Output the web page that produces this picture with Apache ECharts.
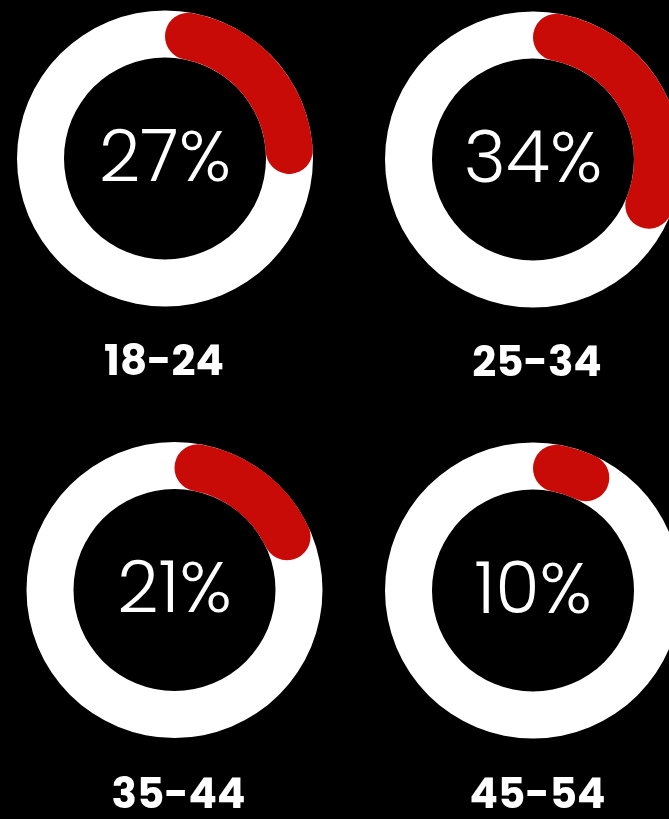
<!DOCTYPE html>
<html>
<head>
<meta charset="utf-8">
<script src="https://cdn.jsdelivr.net/npm/echarts@6/dist/echarts.min.js"></script>
<style>
  html, body { margin: 0; padding: 0; background: #000; }
  #chart { width: 669px; height: 819px; }
</style>
</head>
<body>
<div id="chart"></div>
<script>
// Data
const ageGroups = ['18-24', '25-34', '35-44', '45-54'];
const shares = [27, 34, 21, 10];
const total = 100;

// Layout (positions kept separate from data)
const centers = [[165, 158.5], [533, 159.5], [174.5, 590], [533, 590.5]];
const labelPos = [[164, 364], [537, 365], [178.5, 797], [537.5, 797]];
const innerR = 101, outerR = 148;
const RED = '#c80b07';

const chart = echarts.init(document.getElementById('chart'), null, { renderer: 'canvas' });

const series = [];
ageGroups.forEach((g, i) => {
  series.push({
    type: 'pie',
    silent: true,
    radius: [innerR, outerR],
    center: centers[i],
    startAngle: 90,
    label: { show: false },
    labelLine: { show: false },
    emphasis: { disabled: true },
    itemStyle: { color: '#ffffff', borderWidth: 0 },
    data: [{ value: total, name: g }]
  });
  series.push({
    type: 'pie',
    silent: true,
    radius: [innerR, outerR],
    center: centers[i],
    startAngle: 90,
    clockwise: true,
    avoidLabelOverlap: false,
    labelLine: { show: false },
    emphasis: { disabled: true },
    data: [
      {
        value: shares[i], name: g,
        itemStyle: { color: RED, borderRadius: (outerR - innerR) / 2, borderWidth: 0 },
        label: {
          show: true, position: 'center', formatter: '{c}%',
          color: '#ffffff', fontSize: 72, fontWeight: 300,
          offset: [0, 4],
          fontFamily: 'Poppins, Roboto, "Open Sans", sans-serif'
        }
      },
      {
        value: total - shares[i], name: '',
        itemStyle: { color: 'rgba(0,0,0,0)', borderWidth: 0 },
        label: { show: false }
      }
    ]
  });
});

const graphics = ageGroups.map((g, i) => ({
  type: 'text',
  x: labelPos[i][0],
  y: labelPos[i][1],
  silent: true,
  style: {
    text: g,
    fill: '#ffffff',
    font: '700 42px Poppins, Inter, Roboto, sans-serif',
    align: 'center',
    verticalAlign: 'middle',
    textAlign: 'center',
    textVerticalAlign: 'middle'
  }
}));

chart.setOption({
  backgroundColor: '#000000',
  animation: false,
  series: series,
  graphic: graphics
});
</script>
</body>
</html>
